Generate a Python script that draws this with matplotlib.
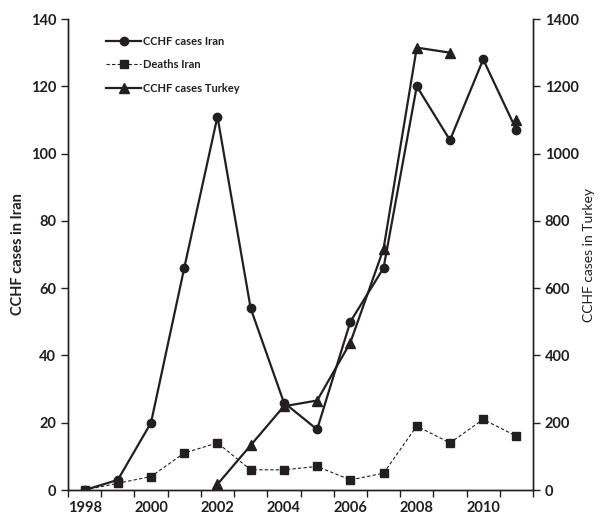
import numpy as np
import matplotlib
matplotlib.use("Agg")
import matplotlib.pyplot as plt

years = list(range(1998, 2012))
iran_cases = [0, 3, 20, 66, 111, 54, 26, 18, 50, 66, 120, 104, 128, 107]
iran_deaths = [0, 2, 4, 11, 14, 6, 6, 7, 3, 5, 19, 14, 21, 16]
turkey_cases = [np.nan, np.nan, np.nan, np.nan, 17, 133, 249, 266, 438, 717, 1315, 1300, np.nan, 1100]

ink = "#231f20"
plt.rcParams["font.family"] = ["Lato", "DejaVu Sans"]

fig = plt.figure(figsize=(6.01, 5.17), dpi=100)
ax = fig.add_axes([0.1131, 0.0522, 0.7738, 0.911])
ax2 = ax.twinx()

x = np.arange(len(years))
l1, = ax.plot(x, iran_cases, color=ink, lw=1.6, marker="o", ms=6, label="CCHF cases Iran")
l2, = ax.plot(x, iran_deaths, color=ink, lw=0.8, ls=(0, (3, 2)), marker="s", ms=5.5, label="Deaths Iran")
l3, = ax2.plot(x, turkey_cases, color=ink, lw=1.6, marker="^", ms=6.5, label="CCHF cases Turkey")

ax.set_xlim(-0.5, len(years) - 0.5)
ax.set_ylim(0, 140)
ax2.set_ylim(0, 1400)
ax.set_yticks(range(0, 141, 20))
ax2.set_yticks(range(0, 1401, 200))

# category boundaries get tick marks, labels sit at every second category
ax.set_xticks(np.arange(-0.5, len(years)), [])
ax.set_xticks(x[::2], [str(y) for y in years[::2]], minor=True)
ax.tick_params(axis="x", which="major", length=5, width=1, color=ink, direction="out")
ax.tick_params(axis="x", which="minor", length=0, pad=8)

for a in (ax, ax2):
    a.spines["top"].set_visible(False)
    for s in a.spines.values():
        s.set_color(ink)
        s.set_linewidth(1)
    a.tick_params(axis="y", length=5, width=1, color=ink, labelcolor=ink, labelsize=10.5)
    for lab in a.get_yticklabels():
        lab.set_fontweight("bold")
ax.tick_params(axis="x", which="both", labelcolor=ink, labelsize=10.5)
for lab in ax.get_xticklabels(minor=True):
    lab.set_fontweight("bold")

ax.set_ylabel("CCHF cases in Iran", fontsize=10.5, fontweight="bold", color=ink, labelpad=4)
ax2.set_ylabel("CCHF cases in Turkey", fontsize=10, color=ink, labelpad=3)

leg = ax.legend(handles=[l1, l2, l3], loc="upper left", bbox_to_anchor=(0.06, 0.985),
                frameon=False, handlelength=3.2, handletextpad=0.1, labelspacing=1.1,
                prop={"size": 8, "weight": "bold"})
for t in leg.get_texts():
    t.set_color(ink)

fig.savefig("out.png", dpi=100)
